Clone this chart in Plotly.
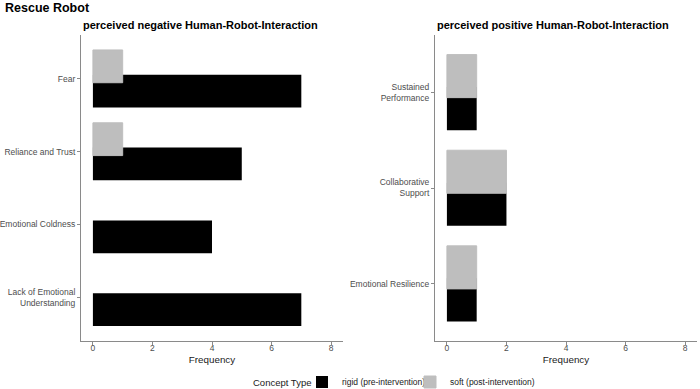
import plotly.graph_objects as go

# ---- data ----
neg_categories = ["Fear", "Reliance and Trust", "Emotional Coldness", "Lack of Emotional<br>Understanding"]
neg_rigid = [7, 5, 4, 7]
neg_soft = [1, 1, 0, 0]

pos_categories = ["Sustained<br>Performance", "Collaborative<br>Support", "Emotional Resilience"]
pos_rigid = [1, 2, 1]
pos_soft = [1, 2, 1]

x_ticks = [0, 2, 4, 6, 8]
series_names = ["rigid (pre-intervention)", "soft (post-intervention)"]
series_colors = ["#000000", "#BEBEBE"]

FONT = "Liberation Sans, Arial, sans-serif"
W, H = 700, 389

fig = go.Figure()

bar_w = 0.45
shift = 0.17
offsets = [shift - bar_w / 2, -shift - bar_w / 2]
legend_ids = ["legend", "legend2"]
edge = [0, 1]  # soft bars get a same-colour edge so they fully cover the rigid bar beneath

panels = [
    (neg_categories, [neg_rigid, neg_soft], "x", "y", True),
    (pos_categories, [pos_rigid, pos_soft], "x2", "y2", False),
]
for cats, vals, xa, ya, showleg in panels:
    for i, (name, col) in enumerate(zip(series_names, series_colors)):
        lw = [edge[i] if v > 0 else 0 for v in vals[i]]
        fig.add_trace(go.Bar(
            orientation="h", y=cats, x=vals[i], name=name,
            marker=dict(color=col, line=dict(width=lw, color=col)),
            width=bar_w, offset=offsets[i],
            xaxis=xa, yaxis=ya, showlegend=showleg,
            legend=legend_ids[i],
        ))

def px_x(p):
    return p / W

def px_y(p):
    return (H - p) / H

top, bottom = 35, 341
ydom = [px_y(bottom), px_y(top)]
ldom = [px_x(81), px_x(343)]
rdom = [px_x(435), px_x(697)]

axis_common = dict(
    showline=True, linecolor="#8a8a8a", linewidth=1, mirror=False,
    showgrid=False, zeroline=False, ticks="outside", ticklen=3,
    tickcolor="#8a8a8a", tickwidth=1, automargin=False,
    tickfont=dict(family=FONT, size=8.5, color="#4D4D4D"),
)

xcommon = dict(axis_common, range=[-0.4, 8.4], tickvals=x_ticks, ticklabelstandoff=-4,
               title=dict(text="Frequency", font=dict(family=FONT, size=9.8, color="#1a1a1a"), standoff=3))

leg_common = dict(orientation="h", y=px_y(382), xanchor="left", yanchor="middle",
                  bgcolor="rgba(0,0,0,0)", tracegroupgap=0,
                  font=dict(family=FONT, size=8.5, color="#1a1a1a"), itemwidth=30)

fig.update_layout(
    width=W, height=H,
    margin=dict(l=0, r=0, t=0, b=0, autoexpand=False),
    paper_bgcolor="white", plot_bgcolor="white",
    barmode="overlay",
    font=dict(family=FONT),
    xaxis=dict(xcommon, domain=ldom, anchor="y"),
    xaxis2=dict(xcommon, domain=rdom, anchor="y2"),
    yaxis=dict(axis_common, domain=ydom, anchor="x", type="category",
               categoryorder="array", categoryarray=neg_categories,
               range=[len(neg_categories) - 0.4, -0.6]),
    yaxis2=dict(axis_common, domain=ydom, anchor="x2", type="category",
                categoryorder="array", categoryarray=pos_categories,
                range=[len(pos_categories) - 0.4, -0.6]),
    legend=dict(leg_common, x=px_x(302)),
    legend2=dict(leg_common, x=px_x(410)),
    annotations=[
        dict(text="<b>Rescue Robot</b>", x=px_x(3), y=px_y(8), xref="paper", yref="paper",
             xanchor="left", yanchor="middle", showarrow=False,
             font=dict(family=FONT, size=12.5, color="#000000")),
        dict(text="<b>perceived negative Human-Robot-Interaction</b>", x=ldom[0], y=px_y(25),
             xref="paper", yref="paper", xanchor="left", yanchor="middle", showarrow=False,
             font=dict(family=FONT, size=11, color="#000000")),
        dict(text="<b>perceived positive Human-Robot-Interaction</b>", x=rdom[0], y=px_y(25),
             xref="paper", yref="paper", xanchor="left", yanchor="middle", showarrow=False,
             font=dict(family=FONT, size=11, color="#000000")),
        dict(text="Concept Type", x=px_x(251), y=px_y(382), xref="paper", yref="paper",
             xanchor="left", yanchor="middle", showarrow=False,
             font=dict(family=FONT, size=9.5, color="#1a1a1a")),
    ],
)

fig.write_html("out.html")
